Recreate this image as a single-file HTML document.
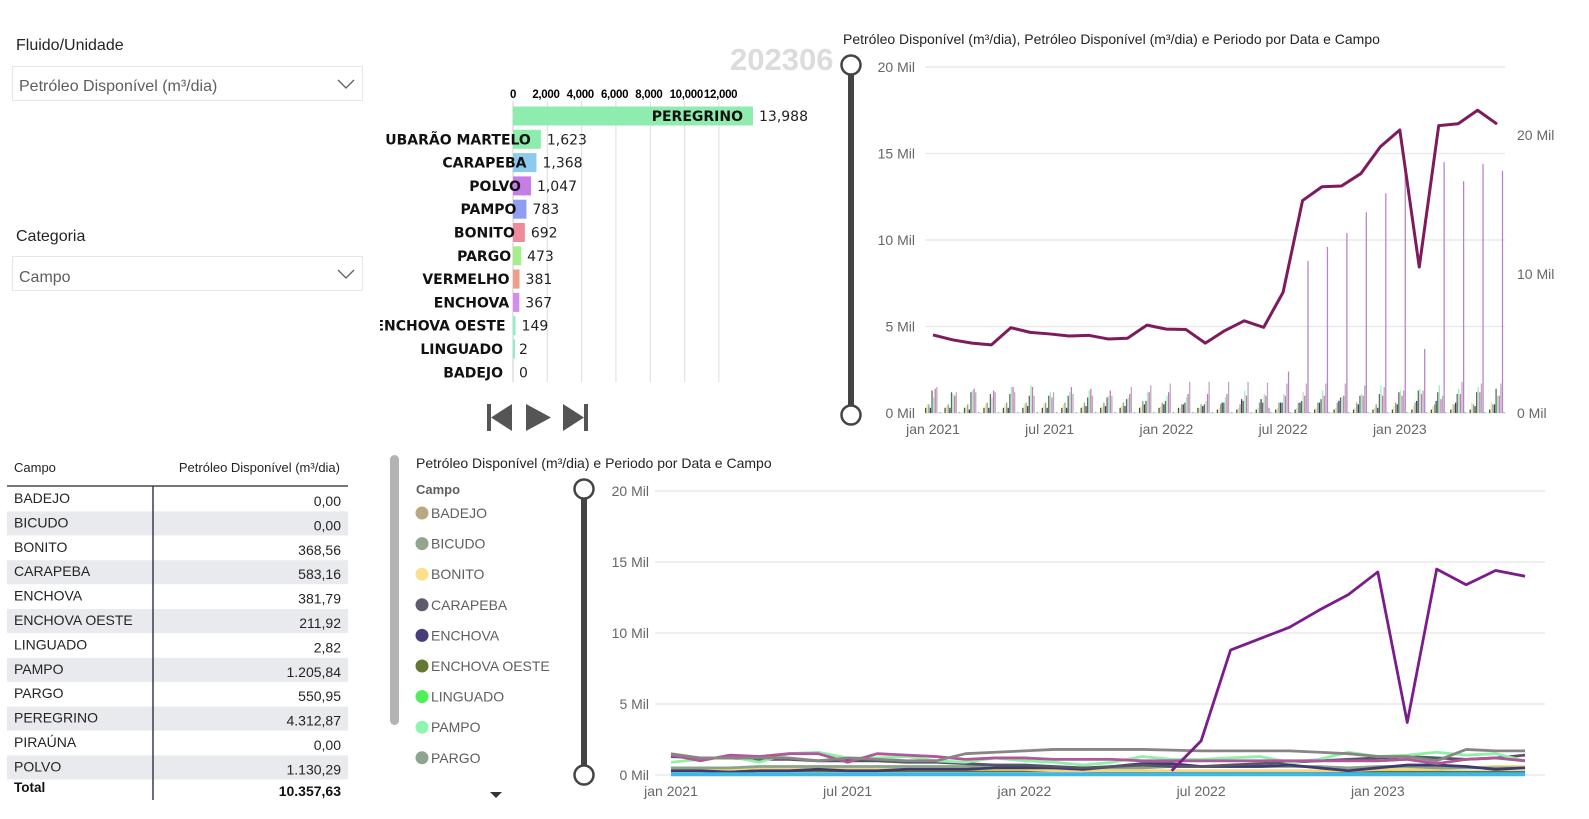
<!DOCTYPE html>
<html><head><meta charset="utf-8">
<style>
body{margin:0;width:1589px;height:819px;background:#fff;overflow:hidden;font-family:"Liberation Sans","DejaVu Sans",sans-serif;}
svg{position:absolute;left:0;top:0}
</style></head>
<body>
<svg id="s" width="1589" height="819" xmlns="http://www.w3.org/2000/svg">
<defs><clipPath id="raceclip"><rect x="380" y="80" width="460" height="320"/></clipPath></defs>
<g>
<text x="16" y="50" font-size="16" fill="#252423">Fluido/Unidade</text>
<rect x="12.5" y="66.5" width="350" height="34" fill="#fff" stroke="#e6e6e6"/>
<text x="19" y="91" font-size="16" fill="#605e5c">Petróleo Disponível (m³/dia)</text>
<path d="M338 80 l8 8 l8 -8" fill="none" stroke="#605e5c" stroke-width="1.3"/>
</g>
<g>
<text x="16" y="241" font-size="16" fill="#252423">Categoria</text>
<rect x="12.5" y="256.5" width="350" height="34" fill="#fff" stroke="#e6e6e6"/>
<text x="19" y="282" font-size="16" fill="#605e5c">Campo</text>
<path d="M338 270 l8 8 l8 -8" fill="none" stroke="#605e5c" stroke-width="1.3"/>
</g>
<text x="730" y="70" font-size="31" font-weight="bold" fill="#dcdcdc">202306</text>
<g id="race" clip-path="url(#raceclip)"></g>
<g>
<g><rect x="487" y="404" width="4" height="27" fill="#555"/><path d="M512 404 L491 417.5 L512 431Z" fill="#555"/></g>
<path d="M526 404 L551 417.5 L526 431Z" fill="#555"/>
<g><path d="M563 404 L584 417.5 L563 431Z" fill="#555"/><rect x="584" y="404" width="4" height="27" fill="#555"/></g>
</g>
<g id="top"></g>
<g id="table"></g>
<g id="legend"></g>
<g id="bottom"></g>
</svg>
<script>
const NS="http://www.w3.org/2000/svg";
function mk(p,t,a,txt){const e=document.createElementNS(NS,t);for(const k in a)e.setAttribute(k,a[k]);if(txt!==undefined)e.textContent=txt;p.appendChild(e);return e;}

// ---- bar race data ----
const raceNames=["PEREGRINO","UBARÃO MARTELO","CARAPEBA","POLVO","PAMPO","BONITO","PARGO","VERMELHO","ENCHOVA","ENCHOVA OESTE","LINGUADO","BADEJO"];
const raceValues=[13988,1623,1368,1047,783,692,473,381,367,149,2,0];
const raceColors=["#8eecae","#8eecae","#8ccbee","#c77de8","#8f9ef0","#ee8c9c","#a6ee8c","#ee9c8c","#d68cee","#8eeec6","#8eeec6","#8eeec6"];
const raceTicks=[0,2000,4000,6000,8000,10000,12000];
(function(){
 const g=document.getElementById('race');
 const x0=513,pxPer=240/13988;const X=v=>x0+v*pxPer;
 raceTicks.forEach(t=>{
  const l=mk(g,'line',{x1:X(t),x2:X(t),y1:101,y2:382,stroke:t?'#ddd':'#ccc'});
  
  const tx=mk(g,'text',{x:X(t)+(t?-15:0),y:98,'font-size':11.5,'font-weight':'bold','text-anchor':t?'start':'middle','letter-spacing':'-0.3'},t?t.toLocaleString('en-US'):'0');
  
 });
 raceNames.forEach((n,i)=>{
  const y=116+i*23.3;
  const r=mk(g,'rect',{x:x0,y:y-9.5,width:Math.max(X(raceValues[i])-x0,raceValues[i]>0?2:0),height:19,fill:raceColors[i]});
  
  const lx=Math.max(X(raceValues[i])-10,503);
  const lbl=mk(g,'text',{x:lx,y:y+5,'font-size':14,'font-weight':'bold','text-anchor':'end',fill:'#111','font-family':'DejaVu Sans, sans-serif'},n);
  
  const v=mk(g,'text',{x:X(raceValues[i])+6,y:y+5,'font-size':14,fill:'#222','font-family':'DejaVu Sans, sans-serif'},raceValues[i].toLocaleString('en-US'));
  
 });
})();

// ---- time series data (monthly jan 2021 .. jun 2023) ----
const months=["jan 2021","fev 2021","mar 2021","abr 2021","mai 2021","jun 2021","jul 2021","ago 2021","set 2021","out 2021","nov 2021","dez 2021","jan 2022","fev 2022","mar 2022","abr 2022","mai 2022","jun 2022","jul 2022","ago 2022","set 2022","out 2022","nov 2022","dez 2022","jan 2023","fev 2023","mar 2023","abr 2023","mai 2023","jun 2023"];
const xTickLabels=["jan 2021","jul 2021","jan 2022","jul 2022","jan 2023"];
const totalSeries=[4.51,4.23,4.04,3.94,4.93,4.66,4.57,4.45,4.49,4.28,4.32,5.08,4.85,4.83,4.04,4.76,5.33,4.95,6.98,12.28,13.08,13.12,13.84,15.39,16.36,8.44,16.61,16.72,17.5,16.7];
const peregrino=[0,0,0,0,0,0,0,0,0,0,0,0,0,0,0,0,0,0.3,2.4,8.8,9.6,10.4,11.6,12.7,14.3,3.7,14.5,13.4,14.4,14.0];
const ubarao=[1.5,1.2,1.2,1.2,1.2,1.0,1.2,1.1,1.0,1.0,1.5,1.6,1.7,1.8,1.8,1.8,1.8,1.75,1.7,1.7,1.7,1.7,1.6,1.5,1.3,1.3,1.0,1.8,1.7,1.7];
const polvo=[1.4,1.0,1.4,1.3,1.5,1.5,0.9,1.5,1.4,1.3,1.1,1.2,1.2,1.1,1.1,1.1,1.0,1.0,1.0,1.0,1.0,1.0,1.0,1.0,1.0,1.1,0.8,1.1,1.2,1.0];
const pampo=[0.9,1.1,1.3,0.9,1.5,1.6,1.2,1.2,1.3,1.0,0.9,1.2,1.0,0.9,0.7,0.9,1.3,1.1,1.1,1.2,1.3,0.9,1.1,1.6,1.3,1.4,1.6,1.4,1.5,1.0];
const carapeba=[1.3,1.2,1.2,1.1,1.1,1.0,1.0,1.0,0.9,0.9,0.8,0.7,0.7,0.6,0.5,0.6,0.7,0.6,0.6,0.7,0.8,0.9,1.0,1.1,1.2,1.3,1.2,1.1,1.2,1.4];
const enchova=[0.3,0.3,0.2,0.3,0.3,0.4,0.3,0.3,0.4,0.4,0.4,0.5,0.5,0.5,0.4,0.6,0.8,0.8,0.6,0.6,0.6,0.7,0.5,0.3,0.5,0.7,0.7,0.6,0.4,0.5];
const bonito=[0.5,0.4,0.4,0.5,0.5,0.5,0.5,0.5,0.4,0.4,0.4,0.4,0.4,0.3,0.3,0.3,0.3,0.3,0.3,0.3,0.3,0.3,0.3,0.3,0.4,0.4,0.4,0.5,0.6,0.6];
const pargo=[0.5,0.5,0.5,0.6,0.6,0.6,0.6,0.6,0.6,0.6,0.6,0.7,0.6,0.5,0.5,0.5,0.5,0.6,0.6,0.6,0.6,0.6,0.6,0.5,0.6,0.6,0.5,0.5,0.5,0.5];
const enchovaOeste=[0.3,0.3,0.3,0.3,0.3,0.3,0.3,0.3,0.3,0.3,0.3,0.3,0.3,0.3,0.3,0.2,0.2,0.2,0.2,0.2,0.2,0.2,0.2,0.2,0.2,0.2,0.2,0.2,0.2,0.2];
const cyanField=[0.05,0.05,0.05,0.05,0.05,0.05,0.05,0.05,0.05,0.05,0.05,0.05,0.05,0.05,0.05,0.05,0.05,0.05,0.05,0.05,0.05,0.05,0.05,0.05,0.05,0.05,0.05,0.05,0.05,0.05];
const seriesList=[
 {name:'enchova-oeste',v:enchovaOeste,c:'#5c7a30',bar:'#3d5c2a'},
 {name:'bonito',v:bonito,c:'#f3d57a',bar:'#f1dfa0'},
 {name:'pargo',v:pargo,c:'#8aa38a',bar:'#8aa38a'},
 {name:'enchova',v:enchova,c:'#403a72',bar:'#404060'},
 {name:'carapeba',v:carapeba,c:'#555566',bar:'#666'},
 {name:'pampo',v:pampo,c:'#8ff0a8',bar:'#9ef0b4'},
 {name:'polvo',v:polvo,c:'#b0579c',bar:'#c07ab8'},
 {name:'ubarao',v:ubarao,c:'#8a8484',bar:'#c0a6c0'},
 {name:'peregrino',v:peregrino,c:'#7b1c8c',bar:'#b884c8'},
 {name:'cyan-field',v:cyanField,c:'#41b6e0',bar:'#41b6e0'}
];

// ---- top combo chart ----
(function(){
 const g=document.getElementById('top');
 const t=mk(g,'text',{x:843,y:44,'font-size':14,fill:'#252423'},'Petróleo Disponível (m³/dia), Petróleo Disponível (m³/dia) e Periodo por Data e Campo');
 
 const X=i=>933+i*19.45, Y=v=>413-v*17.3, Y2=v=>413-v*13.9;
 [0,5,10,15,20].forEach(v=>{
  const l=mk(g,'line',{x1:925,x2:1505,y1:Y(v),y2:Y(v),stroke:'#eaeaea','stroke-width':1.5});
  
  const tx=mk(g,'text',{x:915,y:Y(v)+5,'font-size':14,fill:'#666','text-anchor':'end'},v+' Mil');
  
 });
 [0,10,20].forEach(v=>{
  const tx=mk(g,'text',{x:1517,y:Y2(v)+5,'font-size':14,fill:'#666'},v+' Mil');
  
 });
 xTickLabels.forEach(m=>{
  const i=months.indexOf(m);
  const tx=mk(g,'text',{x:X(i),y:434,'font-size':14,fill:'#666','text-anchor':'middle'},m);
  
 });
 const bw=1.6;
 months.forEach((m,i)=>{
  seriesList.forEach((s,k)=>{
   const v=s.v[i]; if(v<=0)return;
   const x=X(i)-8+k*bw;
   const r=mk(g,'rect',{x:x,y:Y(v),width:bw*0.8,height:413-Y(v),fill:s.bar});
   
  });
 });
 const p=mk(g,'polyline',{points:totalSeries.map((v,i)=>X(i)+','+Y(v)).join(' '),fill:'none',stroke:'#7e1b5c','stroke-width':3,'stroke-linejoin':'round'});
 
 const sl=mk(g,'line',{x1:851,x2:851,y1:65,y2:415,stroke:'#444','stroke-width':6});
 
 [65,415].forEach(y=>{const c=mk(g,'circle',{cx:851,cy:y,r:9.5,fill:'#fff',stroke:'#444','stroke-width':2.5});
  });
})();

// ---- table ----
const tableRows=["BADEJO","BICUDO","BONITO","CARAPEBA","ENCHOVA","ENCHOVA OESTE","LINGUADO","PAMPO","PARGO","PEREGRINO","PIRAÚNA","POLVO"];
const tableValues=["0,00","0,00","368,56","583,16","381,79","211,92","2,82","1.205,84","550,95","4.312,87","0,00","1.130,29"];
(function(){
 const g=document.getElementById('table');
 const h1=mk(g,'text',{x:14,y:472,'font-size':13,fill:'#252423'},'Campo');
 
 const h2=mk(g,'text',{x:340,y:472,'font-size':13,fill:'#252423','text-anchor':'end'},'Petróleo Disponível (m³/dia)');
 
 tableRows.forEach((r,i)=>{
  const y=486+i*24.4;
  if(i%2===1){const b=mk(g,'rect',{x:7,y:y+1,width:341,height:24,fill:'#e9eaee'});
   }
  const a=mk(g,'text',{x:14,y:y+17,'font-size':14,fill:'#252423'},r);
  
  const b=mk(g,'text',{x:341,y:y+20,'font-size':14,fill:'#252423','text-anchor':'end'},tableValues[i]);
  
 });
 const l=mk(g,'line',{x1:7,x2:348,y1:486,y2:486,stroke:'#252423','stroke-width':1.3});
 
 const v=mk(g,'line',{x1:153,x2:153,y1:486,y2:800,stroke:'#3a3a50','stroke-width':1.5});
 
 const t1=mk(g,'text',{x:14,y:792,'font-size':13.5,'font-weight':'bold',fill:'#111'},'Total');
 
 const t2=mk(g,'text',{x:341,y:796,'font-size':14,'font-weight':'bold',fill:'#111','text-anchor':'end'},'10.357,63');
 
})();

// ---- legend ----
const legendNames=["BADEJO","BICUDO","BONITO","CARAPEBA","ENCHOVA","ENCHOVA OESTE","LINGUADO","PAMPO","PARGO"];
const legendColors=["#b8a884","#94a48e","#fbdf8a","#5c5c6a","#463e78","#647830","#4fef58","#8ff5ae","#8fa48f"];
(function(){
 const g=document.getElementById('legend');
 const sb=mk(g,'rect',{x:390,y:455,width:9,height:270,rx:4.5,fill:'#b3b3b3'});
 
 const t=mk(g,'text',{x:416,y:468,'font-size':14,fill:'#252423'},'Petróleo Disponível (m³/dia) e Periodo por Data e Campo');
 
 const c=mk(g,'text',{x:416,y:494,'font-size':13,'font-weight':'bold',fill:'#605e5c'},'Campo');
 
 legendNames.forEach((n,i)=>{
  const y=513+i*30.6;
  const d=mk(g,'circle',{cx:422,cy:y,r:6.5,fill:legendColors[i]});
  
  const tx=mk(g,'text',{x:431,y:y+5,'font-size':14,fill:'#605e5c'},n);
  
 });
 const a=mk(g,'path',{d:'M490 792 L502 792 L496 798Z',fill:'#333'});
 
})();

// ---- bottom line chart ----
(function(){
 const g=document.getElementById('bottom');
 const X=i=>671+i*29.45, Y=v=>775-v*14.2;
 [0,5,10,15,20].forEach(v=>{
  const l=mk(g,'line',{x1:655,x2:1545,y1:Y(v),y2:Y(v),stroke:'#eaeaea','stroke-width':1.5});
  
  const tx=mk(g,'text',{x:649,y:Y(v)+5,'font-size':14,fill:'#666','text-anchor':'end'},v+' Mil');
  
 });
 xTickLabels.forEach(m=>{
  const i=months.indexOf(m);
  const tx=mk(g,'text',{x:X(i),y:796,'font-size':14,fill:'#666','text-anchor':'middle'},m);
  
 });
 seriesList.forEach(s=>{
  let start=s.v.findIndex(v=>v>0);
  const pts=s.v.map((v,i)=>i>=start?X(i)+','+Y(v):null).filter(Boolean).join(' ');
  const p=mk(g,'polyline',{points:pts,fill:'none',stroke:s.c,'stroke-width':s.name==='cyan-field'?4:2.8,'stroke-linejoin':'round'});
  
 });
 const sl=mk(g,'line',{x1:584,x2:584,y1:489,y2:775,stroke:'#444','stroke-width':6});
 
 [489,775].forEach(y=>{const c=mk(g,'circle',{cx:584,cy:y,r:9.5,fill:'#fff',stroke:'#444','stroke-width':2.5});
  });
})();
</script>
</body></html>
